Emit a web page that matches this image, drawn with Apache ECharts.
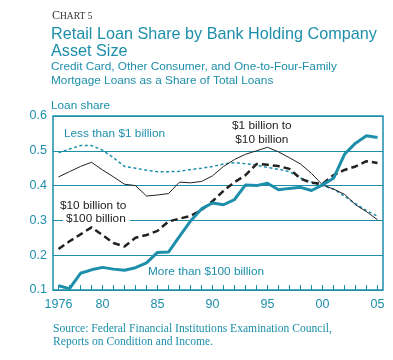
<!DOCTYPE html>
<html><head><meta charset="utf-8">
<script src="https://cdn.jsdelivr.net/npm/echarts@6/dist/echarts.min.js"></script>
<style>html,body{margin:0;padding:0;background:#fff}#c{width:393px;height:360px}</style>
</head><body><div id="c"></div>
<script>
var years = [];
for (var y = 1976; y <= 2005; y++) years.push(String(y));
var lessThan1B = [0.494,0.505,0.515,0.515,0.502,0.480,0.455,0.450,0.444,0.440,0.440,0.441,0.446,0.450,0.455,0.462,0.466,0.463,0.459,0.452,0.447,0.440,0.422,0.410,0.400,0.390,0.370,0.348,0.328,0.312];
var b1to10B = [0.425,0.440,0.455,0.467,0.445,0.425,0.404,0.400,0.370,0.373,0.377,0.410,0.408,0.412,0.428,0.455,0.475,0.490,0.500,0.510,0.497,0.480,0.462,0.435,0.402,0.390,0.375,0.345,0.325,0.302];
var b10to100B = [0.218,0.240,0.260,0.280,0.258,0.235,0.225,0.250,0.258,0.270,0.297,0.305,0.313,0.330,0.355,0.385,0.410,0.430,0.462,0.460,0.456,0.448,0.420,0.408,0.405,0.430,0.445,0.455,0.470,0.465];
var moreThan100B = [0.112,0.104,0.148,0.158,0.165,0.160,0.157,0.164,0.178,0.208,0.209,0.254,0.298,0.333,0.350,0.345,0.360,0.402,0.400,0.407,0.388,0.392,0.395,0.386,0.402,0.421,0.490,0.522,0.543,0.538];
var xLabelYears = ['1976','1980','1985','1990','1995','2000','2005'];

var TEAL = '#1d8fab';
var FONT = '"Liberation Sans", Arial, sans-serif';
var SERIF = '"Liberation Serif", "Times New Roman", serif';

var chart = echarts.init(document.getElementById('c'));
chart.setOption({
  animation: false,
  backgroundColor: '#fff',
  grid: {left: 53, right: 10, top: 116, bottom: 70, show: true, borderColor: TEAL, borderWidth: 1.5, backgroundColor: 'transparent'},
  xAxis: {
    type: 'category', data: years, boundaryGap: true,
    axisLine: {show: false},
    axisTick: {show: true, inside: true, length: 5, alignWithLabel: true, interval: 0, lineStyle: {color: TEAL, width: 1}},
    axisLabel: {
      color: TEAL, fontFamily: FONT, fontSize: 12.5, margin: 8,
      interval: function (i, v) { return xLabelYears.indexOf(v) >= 0; },
      formatter: function (v) { return v === '1976' ? v : v.slice(2); }
    },
    splitLine: {show: false}
  },
  yAxis: {
    type: 'value', min: 0.1, max: 0.6, interval: 0.1,
    axisLine: {show: false}, axisTick: {show: false},
    axisLabel: {color: TEAL, fontFamily: FONT, fontSize: 12.5, margin: 6, formatter: function (v) { return v.toFixed(1); }},
    splitLine: {lineStyle: {color: TEAL, width: 1}}
  },
  series: [
    {type: 'line', data: lessThan1B, symbol: 'none', z: 2, lineStyle: {color: TEAL, width: 1.5, type: [3, 2.5]}},
    {type: 'line', data: b1to10B, symbol: 'none', z: 3, lineStyle: {color: '#222', width: 1}},
    {type: 'line', data: b10to100B, symbol: 'none', z: 4, lineStyle: {color: '#222', width: 2.5, type: [7, 4]}},
    {type: 'line', data: moreThan100B, symbol: 'none', z: 5, lineStyle: {color: TEAL, width: 3}}
  ],
  graphic: [
    {type: 'text', left: 52, top: 10, style: {text: '{a|C}{b|HART 5}', rich: {a: {fontFamily: SERIF, fontSize: 12, fill: '#333'}, b: {fontFamily: SERIF, fontSize: 9.5, fill: '#333'}}}},
    {type: 'text', left: 51, top: 26, style: {text: 'Retail Loan Share by Bank Holding Company\nAsset Size', fontFamily: FONT, fontSize: 16.2, lineHeight: 17, fill: TEAL}},
    {type: 'text', left: 51, top: 60, style: {text: 'Credit Card, Other Consumer, and One-to-Four-Family\nMortgage Loans as a Share of Total Loans', fontFamily: FONT, fontSize: 11.8, lineHeight: 14, fill: TEAL}},
    {type: 'text', left: 51, top: 100, style: {text: 'Loan share', fontFamily: FONT, fontSize: 11.8, fill: TEAL}},
    {type: 'text', left: 64, top: 128, style: {text: 'Less than $1 billion', fontFamily: FONT, fontSize: 11.8, fill: TEAL}},
    {type: 'text', left: 232, top: 119, style: {text: '$1 billion to\n$10 billion', fontFamily: FONT, fontSize: 11.8, lineHeight: 13.5, fill: '#222', align: 'center', textAlign: 'center'}},
    {type: 'text', left: 60, top: 200, z: 10, style: {text: '$10 billion to', fontFamily: FONT, fontSize: 11.8, fill: '#222'}},
    {type: 'text', left: 63, top: 213, z: 10, style: {text: '$100 billion', fontFamily: FONT, fontSize: 11.8, fill: '#222', backgroundColor: '#fff', padding: [0, 4, 0, 3]}},
    {type: 'text', left: 148, top: 266, style: {text: 'More than $100 billion', fontFamily: FONT, fontSize: 11.8, fill: TEAL}},
    {type: 'text', left: 53, top: 322, style: {text: 'Source: Federal Financial Institutions Examination Council,\nReports on Condition and Income.', fontFamily: SERIF, fontSize: 11.6, lineHeight: 13.5, fill: TEAL}}
  ]
});
</script></body></html>
